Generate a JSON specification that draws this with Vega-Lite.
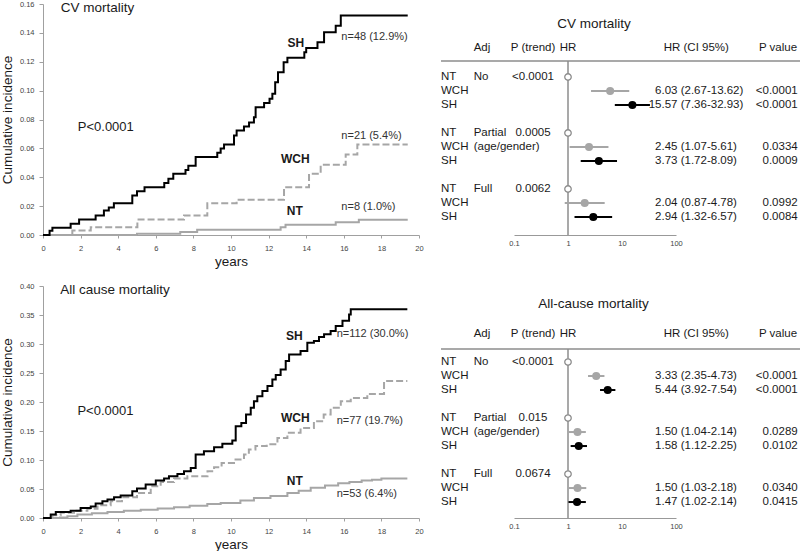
{
"$schema": "https://vega.github.io/schema/vega-lite/v6.json",
"padding": 0,
"autosize": {"type": "pad"},
"background": "white",
"config": {"font": "Liberation Sans", "view": {"stroke": null}, "text": {"color": "#1a1a1a"}, "axis": {"labelOverlap": false}},
"columns": 2,
"spacing": {"row": 51, "column": 22},
"bounds": "flush",
"concat": [
{
"width": 376, "height": 231,
"data": {"values": [
{"g":"NT","t":0,"v":0},{"g":"NT","t":5.0,"v":0.0008},{"g":"NT","t":7.3,"v":0.002},{"g":"NT","t":8.2,"v":0.0036},{"g":"NT","t":12.64,"v":0.0054},{"g":"NT","t":12.9,"v":0.0071},{"g":"NT","t":15.57,"v":0.0089},{"g":"NT","t":16.8,"v":0.0105},{"g":"NT","t":19.4,"v":0.0105},
{"g":"WCH","t":0,"v":0},{"g":"WCH","t":1.56,"v":0.0031},{"g":"WCH","t":2.54,"v":0.0054},{"g":"WCH","t":5.02,"v":0.0107},{"g":"WCH","t":7.5,"v":0.0135},{"g":"WCH","t":8.74,"v":0.022},{"g":"WCH","t":10.3,"v":0.0245},{"g":"WCH","t":12.82,"v":0.0331},{"g":"WCH","t":14.15,"v":0.0424},{"g":"WCH","t":14.77,"v":0.0486},{"g":"WCH","t":16.1,"v":0.0557},{"g":"WCH","t":16.72,"v":0.0627},{"g":"WCH","t":19.4,"v":0.0627},
{"g":"SH","t":0,"v":0},{"g":"SH","t":0.35,"v":0.003},{"g":"SH","t":0.5,"v":0.005},{"g":"SH","t":1.47,"v":0.0078},{"g":"SH","t":1.92,"v":0.0107},{"g":"SH","t":2.8,"v":0.0135},{"g":"SH","t":3.24,"v":0.017},{"g":"SH","t":3.5,"v":0.019},{"g":"SH","t":3.77,"v":0.022},{"g":"SH","t":4.75,"v":0.0273},{"g":"SH","t":5.0,"v":0.0303},{"g":"SH","t":5.4,"v":0.0331},{"g":"SH","t":6.45,"v":0.036},{"g":"SH","t":6.67,"v":0.039},{"g":"SH","t":6.93,"v":0.0424},{"g":"SH","t":7.58,"v":0.045},{"g":"SH","t":7.73,"v":0.048},{"g":"SH","t":8.12,"v":0.054},{"g":"SH","t":9.27,"v":0.057},{"g":"SH","t":9.45,"v":0.06},{"g":"SH","t":9.63,"v":0.0627},{"g":"SH","t":10.16,"v":0.069},{"g":"SH","t":10.3,"v":0.0724},{"g":"SH","t":10.69,"v":0.0751},{"g":"SH","t":10.96,"v":0.078},{"g":"SH","t":11.22,"v":0.0816},{"g":"SH","t":11.31,"v":0.0885},{"g":"SH","t":11.76,"v":0.0915},{"g":"SH","t":12.05,"v":0.0943},{"g":"SH","t":12.2,"v":0.0978},{"g":"SH","t":12.35,"v":0.1058},{"g":"SH","t":12.5,"v":0.1127},{"g":"SH","t":12.8,"v":0.1197},{"g":"SH","t":13.0,"v":0.1227},{"g":"SH","t":13.9,"v":0.1266},{"g":"SH","t":14.0,"v":0.1296},{"g":"SH","t":14.6,"v":0.1335},{"g":"SH","t":14.95,"v":0.1404},{"g":"SH","t":15.57,"v":0.145},{"g":"SH","t":15.84,"v":0.152},{"g":"SH","t":19.4,"v":0.152}
]},
"layer": [
{"mark": {"type": "line", "interpolate": "step-after", "strokeWidth": 2},
 "encoding": {
  "x": {"field": "t", "type": "quantitative", "scale": {"domain": [0, 20], "nice": false},
        "axis": {"title": "years", "values": [0,2,4,6,8,10,12,14,16,18,20], "tickCount": 30, "format": "d", "grid": false, "domainColor": "#a0a0a0", "tickColor": "#a0a0a0", "tickSize": 3, "labelFontSize": 7.5, "labelColor": "#444444", "labelPadding": 6, "labelFlush": false, "labelOverlap": false, "titleFontSize": 13.5, "titleFontWeight": "normal", "titleColor": "#1a1a1a", "titlePadding": 3}},
  "y": {"field": "v", "type": "quantitative", "scale": {"domain": [0, 0.16], "nice": false},
        "axis": {"title": "Cumulative incidence", "values": [0,0.02,0.04,0.06,0.08,0.1,0.12,0.14,0.16], "tickCount": 30, "format": ".2f", "grid": false, "domainColor": "#a0a0a0", "tickColor": "#a0a0a0", "tickSize": 4, "labelFontSize": 7.5, "labelColor": "#444444", "labelPadding": 5, "labelOverlap": false, "titleFontSize": 13.5, "titleFontWeight": "normal", "titleColor": "#1a1a1a", "titlePadding": 5}},
  "color": {"field": "g", "type": "nominal", "scale": {"domain": ["SH","WCH","NT"], "range": ["#000000","#a6a6a6","#a6a6a6"]}, "legend": null},
  "strokeDash": {"field": "g", "type": "nominal", "scale": {"domain": ["SH","WCH","NT"], "range": [[1,0],[7,3],[1,0]]}, "legend": null}
 }},
{"data": {"values": [{}]}, "mark": {"type": "text", "text": "CV mortality", "align": "left", "baseline": "middle", "fontSize": 13.5}, "encoding": {"x": {"datum": 0.94}, "y": {"datum": 0.157}}},
{"data": {"values": [{}]}, "mark": {"type": "text", "text": "P<0.0001", "align": "left", "baseline": "middle", "fontSize": 13}, "encoding": {"x": {"datum": 1.85}, "y": {"datum": 0.075}}},
{"data": {"values": [{}]}, "mark": {"type": "text", "text": "SH", "align": "center", "baseline": "middle", "fontSize": 12, "fontWeight": "bold"}, "encoding": {"x": {"datum": 13.45}, "y": {"datum": 0.1333}}},
{"data": {"values": [{}]}, "mark": {"type": "text", "text": "WCH", "align": "center", "baseline": "middle", "fontSize": 12, "fontWeight": "bold"}, "encoding": {"x": {"datum": 13.42}, "y": {"datum": 0.0528}}},
{"data": {"values": [{}]}, "mark": {"type": "text", "text": "NT", "align": "center", "baseline": "middle", "fontSize": 12, "fontWeight": "bold"}, "encoding": {"x": {"datum": 13.39}, "y": {"datum": 0.0165}}},
{"data": {"values": [{}]}, "mark": {"type": "text", "text": "n=48 (12.9%)", "align": "left", "baseline": "middle", "fontSize": 11, "color": "#333333"}, "encoding": {"x": {"datum": 15.87}, "y": {"datum": 0.137}}},
{"data": {"values": [{}]}, "mark": {"type": "text", "text": "n=21 (5.4%)", "align": "left", "baseline": "middle", "fontSize": 11, "color": "#333333"}, "encoding": {"x": {"datum": 15.87}, "y": {"datum": 0.0689}}},
{"data": {"values": [{}]}, "mark": {"type": "text", "text": "n=8 (1.0%)", "align": "left", "baseline": "middle", "fontSize": 11, "color": "#333333"}, "encoding": {"x": {"datum": 15.87}, "y": {"datum": 0.0197}}}
]
},
{
"width": 360, "height": 231,
"data": {"values": [
{"row":0,"grp":"NT","adj":"No","pt":"<0.0001","hr":1,"hrtxt":"","citxt":"","pv":""},
{"row":1,"grp":"WCH","adj":"","pt":"","hr":6.03,"lo":2.67,"hi":13.62,"hrtxt":"6.03","citxt":"(2.67-13.62)","pv":"<0.0001"},
{"row":2,"grp":"SH","adj":"","pt":"","hr":15.57,"lo":7.36,"hi":32.93,"hrtxt":"15.57","citxt":"(7.36-32.93)","pv":"<0.0001"},
{"row":4,"grp":"NT","adj":"Partial","pt":"0.0005","hr":1,"hrtxt":"","citxt":"","pv":""},
{"row":5,"grp":"WCH","adj":"(age/gender)","pt":"","hr":2.45,"lo":1.07,"hi":5.61,"hrtxt":"2.45","citxt":"(1.07-5.61)","pv":"0.0334"},
{"row":6,"grp":"SH","adj":"","pt":"","hr":3.73,"lo":1.72,"hi":8.09,"hrtxt":"3.73","citxt":"(1.72-8.09)","pv":"0.0009"},
{"row":8,"grp":"NT","adj":"Full","pt":"0.0062","hr":1,"hrtxt":"","citxt":"","pv":""},
{"row":9,"grp":"WCH","adj":"","pt":"","hr":2.04,"lo":0.87,"hi":4.78,"hrtxt":"2.04","citxt":"(0.87-4.78)","pv":"0.0992"},
{"row":10,"grp":"SH","adj":"","pt":"","hr":2.94,"lo":1.32,"hi":6.57,"hrtxt":"2.94","citxt":"(1.32-6.57)","pv":"0.0084"}
]},
"layer": [
{"layer": [
 {"mark": {"type": "text", "align": "left", "baseline": "middle", "fontSize": 11.5}, "encoding": {"x": {"datum": 0, "type": "quantitative", "scale": {"domain": [0, 360], "nice": false, "zero": false}, "axis": null}, "y": {"field": "row", "type": "quantitative", "scale": {"domain": [-5.214, 11.286], "reverse": true, "nice": false, "zero": false}, "axis": null}, "text": {"field": "grp"}}},
 {"mark": {"type": "text", "align": "left", "baseline": "middle", "fontSize": 11.5}, "encoding": {"x": {"datum": 32.7, "type": "quantitative", "scale": {"domain": [0, 360], "nice": false, "zero": false}, "axis": null}, "y": {"field": "row", "type": "quantitative", "scale": {"domain": [-5.214, 11.286], "reverse": true, "nice": false, "zero": false}, "axis": null}, "text": {"field": "adj"}}},
 {"mark": {"type": "text", "align": "center", "baseline": "middle", "fontSize": 11.5}, "encoding": {"x": {"datum": 92, "type": "quantitative", "scale": {"domain": [0, 360], "nice": false, "zero": false}, "axis": null}, "y": {"field": "row", "type": "quantitative", "scale": {"domain": [-5.214, 11.286], "reverse": true, "nice": false, "zero": false}, "axis": null}, "text": {"field": "pt"}}},
 {"mark": {"type": "text", "align": "right", "baseline": "middle", "fontSize": 11.5}, "encoding": {"x": {"datum": 236.5, "type": "quantitative", "scale": {"domain": [0, 360], "nice": false, "zero": false}, "axis": null}, "y": {"field": "row", "type": "quantitative", "scale": {"domain": [-5.214, 11.286], "reverse": true, "nice": false, "zero": false}, "axis": null}, "text": {"field": "hrtxt"}}},
 {"mark": {"type": "text", "align": "left", "baseline": "middle", "fontSize": 11.5}, "encoding": {"x": {"datum": 239.7, "type": "quantitative", "scale": {"domain": [0, 360], "nice": false, "zero": false}, "axis": null}, "y": {"field": "row", "type": "quantitative", "scale": {"domain": [-5.214, 11.286], "reverse": true, "nice": false, "zero": false}, "axis": null}, "text": {"field": "citxt"}}},
 {"mark": {"type": "text", "align": "right", "baseline": "middle", "fontSize": 11.5}, "encoding": {"x": {"datum": 356.7, "type": "quantitative", "scale": {"domain": [0, 360], "nice": false, "zero": false}, "axis": null}, "y": {"field": "row", "type": "quantitative", "scale": {"domain": [-5.214, 11.286], "reverse": true, "nice": false, "zero": false}, "axis": null}, "text": {"field": "pv"}}},
 {"data": {"values": [{}]}, "mark": {"type": "text", "text": "CV mortality", "align": "center", "baseline": "middle", "fontSize": 13.5}, "encoding": {"x": {"datum": 153, "type": "quantitative", "scale": {"domain": [0, 360], "nice": false, "zero": false}, "axis": null}, "y": {"datum": -3.79, "type": "quantitative", "scale": {"domain": [-5.214, 11.286], "reverse": true, "nice": false, "zero": false}, "axis": null}}},
 {"data": {"values": [{}]}, "mark": {"type": "text", "text": "Adj", "align": "left", "baseline": "middle", "fontSize": 11.5}, "encoding": {"x": {"datum": 32.7, "type": "quantitative", "scale": {"domain": [0, 360], "nice": false, "zero": false}, "axis": null}, "y": {"datum": -2.07, "type": "quantitative", "scale": {"domain": [-5.214, 11.286], "reverse": true, "nice": false, "zero": false}, "axis": null}}},
 {"data": {"values": [{}]}, "mark": {"type": "text", "text": "P (trend)", "align": "center", "baseline": "middle", "fontSize": 11.5}, "encoding": {"x": {"datum": 92, "type": "quantitative", "scale": {"domain": [0, 360], "nice": false, "zero": false}, "axis": null}, "y": {"datum": -2.07, "type": "quantitative", "scale": {"domain": [-5.214, 11.286], "reverse": true, "nice": false, "zero": false}, "axis": null}}},
 {"data": {"values": [{}]}, "mark": {"type": "text", "text": "HR (CI 95%)", "align": "center", "baseline": "middle", "fontSize": 11.5}, "encoding": {"x": {"datum": 255.3, "type": "quantitative", "scale": {"domain": [0, 360], "nice": false, "zero": false}, "axis": null}, "y": {"datum": -2.07, "type": "quantitative", "scale": {"domain": [-5.214, 11.286], "reverse": true, "nice": false, "zero": false}, "axis": null}}},
 {"data": {"values": [{}]}, "mark": {"type": "text", "text": "P value", "align": "center", "baseline": "middle", "fontSize": 11.5}, "encoding": {"x": {"datum": 337, "type": "quantitative", "scale": {"domain": [0, 360], "nice": false, "zero": false}, "axis": null}, "y": {"datum": -2.07, "type": "quantitative", "scale": {"domain": [-5.214, 11.286], "reverse": true, "nice": false, "zero": false}, "axis": null}}},
 {"data": {"values": [{}]}, "mark": {"type": "rule", "color": "#8c8c8c", "strokeWidth": 1.5}, "encoding": {"y": {"datum": -1.14, "type": "quantitative", "scale": {"domain": [-5.214, 11.286], "reverse": true, "nice": false, "zero": false}, "axis": null}}}
]},
{"layer": [
 {"data": {"values": [{}]}, "mark": {"type": "rule", "color": "#8c8c8c", "strokeWidth": 1.5}, "encoding": {"x": {"datum": 1, "type": "quantitative", "scale": {"type": "log", "domain": [0.1, 100], "range": [73, 235], "nice": false}}, "y": {"datum": -1.14, "type": "quantitative", "scale": {"domain": [-5.214, 11.286], "reverse": true, "nice": false, "zero": false}, "axis": null}, "y2": {"datum": 11.286}}},
 {"data": {"values": [{}]}, "mark": {"type": "text", "text": "HR", "align": "center", "baseline": "middle", "fontSize": 11.5}, "encoding": {"x": {"datum": 1, "type": "quantitative", "scale": {"type": "log", "domain": [0.1, 100], "range": [73, 235], "nice": false}}, "y": {"datum": -2.07, "type": "quantitative", "scale": {"domain": [-5.214, 11.286], "reverse": true, "nice": false, "zero": false}, "axis": null}}},
 {"transform": [{"filter": "datum.lo != null"}], "mark": {"type": "rule", "strokeWidth": 2}, "encoding": {"x": {"field": "lo", "type": "quantitative", "scale": {"type": "log", "domain": [0.1, 100], "range": [73, 235], "nice": false}, "axis": {"orient": "bottom", "title": null, "values": [0.1, 1, 10, 100], "tickCount": 30, "format": "~g", "grid": false, "ticks": false, "domainColor": "#999999", "labelFontSize": 7.5, "labelColor": "#444444", "labelPadding": 4, "labelFlush": false, "labelOverlap": false}}, "x2": {"field": "hi"}, "y": {"field": "row", "type": "quantitative", "scale": {"domain": [-5.214, 11.286], "reverse": true, "nice": false, "zero": false}, "axis": null}, "color": {"field": "grp", "type": "nominal", "scale": {"domain": ["WCH", "SH"], "range": ["#9a9a9a", "#000000"]}, "legend": null}}},
 {"transform": [{"filter": "datum.lo != null"}], "mark": {"type": "circle", "size": 65, "opacity": 1}, "encoding": {"x": {"field": "hr", "type": "quantitative", "scale": {"type": "log", "domain": [0.1, 100], "range": [73, 235], "nice": false}}, "y": {"field": "row", "type": "quantitative", "scale": {"domain": [-5.214, 11.286], "reverse": true, "nice": false, "zero": false}, "axis": null}, "color": {"field": "grp", "type": "nominal", "scale": {"domain": ["WCH", "SH"], "range": ["#9a9a9a", "#000000"]}, "legend": null}}},
 {"transform": [{"filter": "datum.grp == 'NT'"}], "mark": {"type": "point", "shape": "circle", "filled": true, "fill": "white", "stroke": "#8c8c8c", "strokeWidth": 1.3, "size": 42, "opacity": 1}, "encoding": {"x": {"field": "hr", "type": "quantitative", "scale": {"type": "log", "domain": [0.1, 100], "range": [73, 235], "nice": false}}, "y": {"field": "row", "type": "quantitative", "scale": {"domain": [-5.214, 11.286], "reverse": true, "nice": false, "zero": false}, "axis": null}}}
]}
],
"resolve": {"scale": {"x": "independent"}, "axis": {"x": "independent"}}
},
{
"width": 376, "height": 232,
"data": {"values": [
{"g":"NT","t":0,"v":0},{"g":"NT","t":0.9,"v":0.001},{"g":"NT","t":1.3,"v":0.003},{"g":"NT","t":1.83,"v":0.006},{"g":"NT","t":2.6,"v":0.008},{"g":"NT","t":3.43,"v":0.0104},{"g":"NT","t":4.3,"v":0.0125},{"g":"NT","t":5.2,"v":0.0144},{"g":"NT","t":6.1,"v":0.0165},{"g":"NT","t":6.97,"v":0.0184},{"g":"NT","t":7.8,"v":0.021},{"g":"NT","t":8.74,"v":0.024},{"g":"NT","t":9.45,"v":0.026},{"g":"NT","t":10.5,"v":0.03},{"g":"NT","t":11.22,"v":0.0345},{"g":"NT","t":12.1,"v":0.038},{"g":"NT","t":13.0,"v":0.043},{"g":"NT","t":13.6,"v":0.047},{"g":"NT","t":14.24,"v":0.052},{"g":"NT","t":15.0,"v":0.056},{"g":"NT","t":15.7,"v":0.06},{"g":"NT","t":16.3,"v":0.062},{"g":"NT","t":16.95,"v":0.0646},{"g":"NT","t":17.5,"v":0.066},{"g":"NT","t":18.0,"v":0.068},{"g":"NT","t":19.38,"v":0.068},
{"g":"WCH","t":0,"v":0},{"g":"WCH","t":0.5,"v":0.0046},{"g":"WCH","t":0.94,"v":0.009},{"g":"WCH","t":1.65,"v":0.0127},{"g":"WCH","t":2.36,"v":0.016},{"g":"WCH","t":2.9,"v":0.022},{"g":"WCH","t":3.6,"v":0.029},{"g":"WCH","t":4.2,"v":0.0357},{"g":"WCH","t":5.0,"v":0.043},{"g":"WCH","t":5.73,"v":0.0547},{"g":"WCH","t":6.26,"v":0.062},{"g":"WCH","t":6.97,"v":0.068},{"g":"WCH","t":7.68,"v":0.072},{"g":"WCH","t":8.75,"v":0.0807},{"g":"WCH","t":9.1,"v":0.0875},{"g":"WCH","t":9.5,"v":0.095},{"g":"WCH","t":10.16,"v":0.1008},{"g":"WCH","t":10.69,"v":0.1095},{"g":"WCH","t":10.95,"v":0.118},{"g":"WCH","t":11.3,"v":0.124},{"g":"WCH","t":11.9,"v":0.127},{"g":"WCH","t":12.47,"v":0.138},{"g":"WCH","t":13.0,"v":0.1468},{"g":"WCH","t":13.7,"v":0.155},{"g":"WCH","t":14.41,"v":0.167},{"g":"WCH","t":14.93,"v":0.1786},{"g":"WCH","t":15.3,"v":0.19},{"g":"WCH","t":15.84,"v":0.2015},{"g":"WCH","t":16.37,"v":0.207},{"g":"WCH","t":17.25,"v":0.214},{"g":"WCH","t":18.14,"v":0.236},{"g":"WCH","t":19.38,"v":0.236},
{"g":"SH","t":0,"v":0},{"g":"SH","t":0.41,"v":0.006},{"g":"SH","t":0.68,"v":0.0104},{"g":"SH","t":1.47,"v":0.0127},{"g":"SH","t":2.0,"v":0.0173},{"g":"SH","t":2.54,"v":0.02},{"g":"SH","t":2.8,"v":0.0249},{"g":"SH","t":3.16,"v":0.029},{"g":"SH","t":3.43,"v":0.0318},{"g":"SH","t":3.78,"v":0.0357},{"g":"SH","t":4.13,"v":0.039},{"g":"SH","t":4.75,"v":0.046},{"g":"SH","t":5.0,"v":0.0507},{"g":"SH","t":5.46,"v":0.0577},{"g":"SH","t":6.0,"v":0.0646},{"g":"SH","t":6.44,"v":0.068},{"g":"SH","t":6.7,"v":0.072},{"g":"SH","t":7.15,"v":0.076},{"g":"SH","t":7.5,"v":0.0807},{"g":"SH","t":7.86,"v":0.0864},{"g":"SH","t":8.12,"v":0.1095},{"g":"SH","t":8.56,"v":0.115},{"g":"SH","t":9.1,"v":0.122},{"g":"SH","t":9.54,"v":0.128},{"g":"SH","t":10.07,"v":0.1337},{"g":"SH","t":10.25,"v":0.158},{"g":"SH","t":10.55,"v":0.164},{"g":"SH","t":10.8,"v":0.1786},{"g":"SH","t":11.05,"v":0.19},{"g":"SH","t":11.22,"v":0.2015},{"g":"SH","t":11.4,"v":0.21},{"g":"SH","t":11.67,"v":0.2188},{"g":"SH","t":11.94,"v":0.2275},{"g":"SH","t":12.2,"v":0.239},{"g":"SH","t":12.38,"v":0.2465},{"g":"SH","t":12.64,"v":0.256},{"g":"SH","t":12.91,"v":0.2706},{"g":"SH","t":13.09,"v":0.282},{"g":"SH","t":13.7,"v":0.288},{"g":"SH","t":14.06,"v":0.302},{"g":"SH","t":14.41,"v":0.305},{"g":"SH","t":14.68,"v":0.312},{"g":"SH","t":14.95,"v":0.3167},{"g":"SH","t":15.3,"v":0.3225},{"g":"SH","t":15.57,"v":0.331},{"g":"SH","t":15.93,"v":0.34},{"g":"SH","t":16.28,"v":0.351},{"g":"SH","t":16.37,"v":0.36},{"g":"SH","t":19.38,"v":0.36}
]},
"layer": [
{"mark": {"type": "line", "interpolate": "step-after", "strokeWidth": 2},
 "encoding": {
  "x": {"field": "t", "type": "quantitative", "scale": {"domain": [0, 20], "nice": false},
        "axis": {"title": "years", "values": [0,2,4,6,8,10,12,14,16,18,20], "tickCount": 30, "format": "d", "grid": false, "domainColor": "#a0a0a0", "tickColor": "#a0a0a0", "tickSize": 3, "labelFontSize": 7.5, "labelColor": "#444444", "labelPadding": 6, "labelFlush": false, "labelOverlap": false, "titleFontSize": 13.5, "titleFontWeight": "normal", "titleColor": "#1a1a1a", "titlePadding": 3}},
  "y": {"field": "v", "type": "quantitative", "scale": {"domain": [0, 0.4], "nice": false},
        "axis": {"title": "Cumulative incidence", "values": [0,0.05,0.1,0.15,0.2,0.25,0.3,0.35,0.4], "tickCount": 30, "format": ".2f", "grid": false, "domainColor": "#a0a0a0", "tickColor": "#a0a0a0", "tickSize": 4, "labelFontSize": 7.5, "labelColor": "#444444", "labelPadding": 5, "labelOverlap": false, "titleFontSize": 13.5, "titleFontWeight": "normal", "titleColor": "#1a1a1a", "titlePadding": 5}},
  "color": {"field": "g", "type": "nominal", "scale": {"domain": ["SH","WCH","NT"], "range": ["#000000","#a6a6a6","#a6a6a6"]}, "legend": null},
  "strokeDash": {"field": "g", "type": "nominal", "scale": {"domain": ["SH","WCH","NT"], "range": [[1,0],[7,3],[1,0]]}, "legend": null}
 }},
{"data": {"values": [{}]}, "mark": {"type": "text", "text": "All cause mortality", "align": "left", "baseline": "middle", "fontSize": 13.5}, "encoding": {"x": {"datum": 0.92}, "y": {"datum": 0.393}}},
{"data": {"values": [{}]}, "mark": {"type": "text", "text": "P<0.0001", "align": "left", "baseline": "middle", "fontSize": 13}, "encoding": {"x": {"datum": 1.83}, "y": {"datum": 0.184}}},
{"data": {"values": [{}]}, "mark": {"type": "text", "text": "SH", "align": "center", "baseline": "middle", "fontSize": 12, "fontWeight": "bold"}, "encoding": {"x": {"datum": 13.37}, "y": {"datum": 0.3138}}},
{"data": {"values": [{}]}, "mark": {"type": "text", "text": "WCH", "align": "center", "baseline": "middle", "fontSize": 12, "fontWeight": "bold"}, "encoding": {"x": {"datum": 13.42}, "y": {"datum": 0.1727}}},
{"data": {"values": [{}]}, "mark": {"type": "text", "text": "NT", "align": "center", "baseline": "middle", "fontSize": 12, "fontWeight": "bold"}, "encoding": {"x": {"datum": 13.39}, "y": {"datum": 0.0634}}},
{"data": {"values": [{}]}, "mark": {"type": "text", "text": "n=112 (30.0%)", "align": "left", "baseline": "middle", "fontSize": 11, "color": "#333333"}, "encoding": {"x": {"datum": 15.62}, "y": {"datum": 0.3167}}},
{"data": {"values": [{}]}, "mark": {"type": "text", "text": "n=77 (19.7%)", "align": "left", "baseline": "middle", "fontSize": 11, "color": "#333333"}, "encoding": {"x": {"datum": 15.62}, "y": {"datum": 0.167}}},
{"data": {"values": [{}]}, "mark": {"type": "text", "text": "n=53 (6.4%)", "align": "left", "baseline": "middle", "fontSize": 11, "color": "#333333"}, "encoding": {"x": {"datum": 15.62}, "y": {"datum": 0.042}}}
]
},
{
"width": 360, "height": 232,
"data": {"values": [
{"row":0,"grp":"NT","adj":"No","pt":"<0.0001","hr":1,"hrtxt":"","citxt":"","pv":""},
{"row":1,"grp":"WCH","adj":"","pt":"","hr":3.33,"lo":2.35,"hi":4.73,"hrtxt":"3.33","citxt":"(2.35-4.73)","pv":"<0.0001"},
{"row":2,"grp":"SH","adj":"","pt":"","hr":5.44,"lo":3.92,"hi":7.54,"hrtxt":"5.44","citxt":"(3.92-7.54)","pv":"<0.0001"},
{"row":4,"grp":"NT","adj":"Partial","pt":"0.015","hr":1,"hrtxt":"","citxt":"","pv":""},
{"row":5,"grp":"WCH","adj":"(age/gender)","pt":"","hr":1.50,"lo":1.04,"hi":2.14,"hrtxt":"1.50","citxt":"(1.04-2.14)","pv":"0.0289"},
{"row":6,"grp":"SH","adj":"","pt":"","hr":1.58,"lo":1.12,"hi":2.25,"hrtxt":"1.58","citxt":"(1.12-2.25)","pv":"0.0102"},
{"row":8,"grp":"NT","adj":"Full","pt":"0.0674","hr":1,"hrtxt":"","citxt":"","pv":""},
{"row":9,"grp":"WCH","adj":"","pt":"","hr":1.50,"lo":1.03,"hi":2.18,"hrtxt":"1.50","citxt":"(1.03-2.18)","pv":"0.0340"},
{"row":10,"grp":"SH","adj":"","pt":"","hr":1.47,"lo":1.02,"hi":2.14,"hrtxt":"1.47","citxt":"(1.02-2.14)","pv":"0.0415"}
]},
"layer": [
{"layer": [
 {"mark": {"type": "text", "align": "left", "baseline": "middle", "fontSize": 11.5}, "encoding": {"x": {"datum": 0, "type": "quantitative", "scale": {"domain": [0, 360], "nice": false, "zero": false}, "axis": null}, "y": {"field": "row", "type": "quantitative", "scale": {"domain": [-5.43, 11.14], "reverse": true, "nice": false, "zero": false}, "axis": null}, "text": {"field": "grp"}}},
 {"mark": {"type": "text", "align": "left", "baseline": "middle", "fontSize": 11.5}, "encoding": {"x": {"datum": 32.7, "type": "quantitative", "scale": {"domain": [0, 360], "nice": false, "zero": false}, "axis": null}, "y": {"field": "row", "type": "quantitative", "scale": {"domain": [-5.43, 11.14], "reverse": true, "nice": false, "zero": false}, "axis": null}, "text": {"field": "adj"}}},
 {"mark": {"type": "text", "align": "center", "baseline": "middle", "fontSize": 11.5}, "encoding": {"x": {"datum": 92, "type": "quantitative", "scale": {"domain": [0, 360], "nice": false, "zero": false}, "axis": null}, "y": {"field": "row", "type": "quantitative", "scale": {"domain": [-5.43, 11.14], "reverse": true, "nice": false, "zero": false}, "axis": null}, "text": {"field": "pt"}}},
 {"mark": {"type": "text", "align": "right", "baseline": "middle", "fontSize": 11.5}, "encoding": {"x": {"datum": 236.5, "type": "quantitative", "scale": {"domain": [0, 360], "nice": false, "zero": false}, "axis": null}, "y": {"field": "row", "type": "quantitative", "scale": {"domain": [-5.43, 11.14], "reverse": true, "nice": false, "zero": false}, "axis": null}, "text": {"field": "hrtxt"}}},
 {"mark": {"type": "text", "align": "left", "baseline": "middle", "fontSize": 11.5}, "encoding": {"x": {"datum": 239.7, "type": "quantitative", "scale": {"domain": [0, 360], "nice": false, "zero": false}, "axis": null}, "y": {"field": "row", "type": "quantitative", "scale": {"domain": [-5.43, 11.14], "reverse": true, "nice": false, "zero": false}, "axis": null}, "text": {"field": "citxt"}}},
 {"mark": {"type": "text", "align": "right", "baseline": "middle", "fontSize": 11.5}, "encoding": {"x": {"datum": 356.7, "type": "quantitative", "scale": {"domain": [0, 360], "nice": false, "zero": false}, "axis": null}, "y": {"field": "row", "type": "quantitative", "scale": {"domain": [-5.43, 11.14], "reverse": true, "nice": false, "zero": false}, "axis": null}, "text": {"field": "pv"}}},
 {"data": {"values": [{}]}, "mark": {"type": "text", "text": "All-cause mortality", "align": "center", "baseline": "middle", "fontSize": 13.5}, "encoding": {"x": {"datum": 152.5, "type": "quantitative", "scale": {"domain": [0, 360], "nice": false, "zero": false}, "axis": null}, "y": {"datum": -4.14, "type": "quantitative", "scale": {"domain": [-5.43, 11.14], "reverse": true, "nice": false, "zero": false}, "axis": null}}},
 {"data": {"values": [{}]}, "mark": {"type": "text", "text": "Adj", "align": "left", "baseline": "middle", "fontSize": 11.5}, "encoding": {"x": {"datum": 32.7, "type": "quantitative", "scale": {"domain": [0, 360], "nice": false, "zero": false}, "axis": null}, "y": {"datum": -2.0, "type": "quantitative", "scale": {"domain": [-5.43, 11.14], "reverse": true, "nice": false, "zero": false}, "axis": null}}},
 {"data": {"values": [{}]}, "mark": {"type": "text", "text": "P (trend)", "align": "center", "baseline": "middle", "fontSize": 11.5}, "encoding": {"x": {"datum": 92, "type": "quantitative", "scale": {"domain": [0, 360], "nice": false, "zero": false}, "axis": null}, "y": {"datum": -2.0, "type": "quantitative", "scale": {"domain": [-5.43, 11.14], "reverse": true, "nice": false, "zero": false}, "axis": null}}},
 {"data": {"values": [{}]}, "mark": {"type": "text", "text": "HR (CI 95%)", "align": "center", "baseline": "middle", "fontSize": 11.5}, "encoding": {"x": {"datum": 255.3, "type": "quantitative", "scale": {"domain": [0, 360], "nice": false, "zero": false}, "axis": null}, "y": {"datum": -2.0, "type": "quantitative", "scale": {"domain": [-5.43, 11.14], "reverse": true, "nice": false, "zero": false}, "axis": null}}},
 {"data": {"values": [{}]}, "mark": {"type": "text", "text": "P value", "align": "center", "baseline": "middle", "fontSize": 11.5}, "encoding": {"x": {"datum": 337, "type": "quantitative", "scale": {"domain": [0, 360], "nice": false, "zero": false}, "axis": null}, "y": {"datum": -2.0, "type": "quantitative", "scale": {"domain": [-5.43, 11.14], "reverse": true, "nice": false, "zero": false}, "axis": null}}},
 {"data": {"values": [{}]}, "mark": {"type": "rule", "color": "#8c8c8c", "strokeWidth": 1.5}, "encoding": {"y": {"datum": -0.93, "type": "quantitative", "scale": {"domain": [-5.43, 11.14], "reverse": true, "nice": false, "zero": false}, "axis": null}}}
]},
{"layer": [
 {"data": {"values": [{}]}, "mark": {"type": "rule", "color": "#8c8c8c", "strokeWidth": 1.5}, "encoding": {"x": {"datum": 1, "type": "quantitative", "scale": {"type": "log", "domain": [0.1, 100], "range": [73, 235], "nice": false}}, "y": {"datum": -0.93, "type": "quantitative", "scale": {"domain": [-5.43, 11.14], "reverse": true, "nice": false, "zero": false}, "axis": null}, "y2": {"datum": 11.14}}},
 {"data": {"values": [{}]}, "mark": {"type": "text", "text": "HR", "align": "center", "baseline": "middle", "fontSize": 11.5}, "encoding": {"x": {"datum": 1, "type": "quantitative", "scale": {"type": "log", "domain": [0.1, 100], "range": [73, 235], "nice": false}}, "y": {"datum": -2.0, "type": "quantitative", "scale": {"domain": [-5.43, 11.14], "reverse": true, "nice": false, "zero": false}, "axis": null}}},
 {"transform": [{"filter": "datum.lo != null"}], "mark": {"type": "rule", "strokeWidth": 2}, "encoding": {"x": {"field": "lo", "type": "quantitative", "scale": {"type": "log", "domain": [0.1, 100], "range": [73, 235], "nice": false}, "axis": {"orient": "bottom", "title": null, "values": [0.1, 1, 10, 100], "tickCount": 30, "format": "~g", "grid": false, "ticks": false, "domainColor": "#999999", "labelFontSize": 7.5, "labelColor": "#444444", "labelPadding": 4, "labelFlush": false, "labelOverlap": false}}, "x2": {"field": "hi"}, "y": {"field": "row", "type": "quantitative", "scale": {"domain": [-5.43, 11.14], "reverse": true, "nice": false, "zero": false}, "axis": null}, "color": {"field": "grp", "type": "nominal", "scale": {"domain": ["WCH", "SH"], "range": ["#9a9a9a", "#000000"]}, "legend": null}}},
 {"transform": [{"filter": "datum.lo != null"}], "mark": {"type": "circle", "size": 65, "opacity": 1}, "encoding": {"x": {"field": "hr", "type": "quantitative", "scale": {"type": "log", "domain": [0.1, 100], "range": [73, 235], "nice": false}}, "y": {"field": "row", "type": "quantitative", "scale": {"domain": [-5.43, 11.14], "reverse": true, "nice": false, "zero": false}, "axis": null}, "color": {"field": "grp", "type": "nominal", "scale": {"domain": ["WCH", "SH"], "range": ["#9a9a9a", "#000000"]}, "legend": null}}},
 {"transform": [{"filter": "datum.grp == 'NT'"}], "mark": {"type": "point", "shape": "circle", "filled": true, "fill": "white", "stroke": "#8c8c8c", "strokeWidth": 1.3, "size": 42, "opacity": 1}, "encoding": {"x": {"field": "hr", "type": "quantitative", "scale": {"type": "log", "domain": [0.1, 100], "range": [73, 235], "nice": false}}, "y": {"field": "row", "type": "quantitative", "scale": {"domain": [-5.43, 11.14], "reverse": true, "nice": false, "zero": false}, "axis": null}}}
]}
],
"resolve": {"scale": {"x": "independent"}, "axis": {"x": "independent"}}
}
]
}
